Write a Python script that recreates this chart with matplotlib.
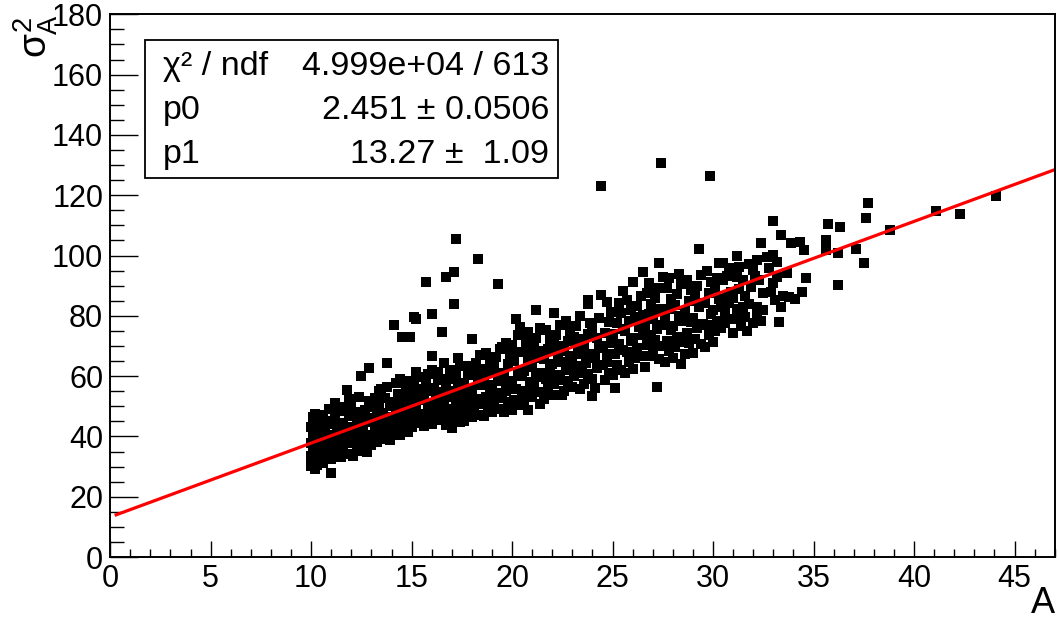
import matplotlib
matplotlib.use("Agg")
import matplotlib.pyplot as plt
from matplotlib.patches import Rectangle
from matplotlib.ticker import MultipleLocator

plt.rcParams["font.family"] = ["Liberation Sans", "DejaVu Sans"]
plt.rcParams["mathtext.fontset"] = "custom"
plt.rcParams["mathtext.rm"] = "Liberation Sans"
plt.rcParams["mathtext.it"] = "Liberation Sans"

################## Dados ##################

# pontos (A, sigma^2_A), agrupados por faixa de A
pts_10 = [(10.0, 30.2), (10.1, 31.8), (10.0, 33.5), (10.2, 34.9), (10.1, 36.4), (10.0, 37.9),
          (10.3, 38.6), (10.1, 40.2), (10.2, 41.7), (10.0, 43.1), (10.3, 44.6), (10.1, 46.3),
          (10.2, 47.5), (10.4, 32.6), (10.4, 35.7), (10.5, 39.9), (10.4, 42.5), (10.5, 45.2),
          (10.3, 30.5), (10.5, 36.8), (10.2, 29.3)]
pts_11 = [(10.6, 31.2), (10.7, 33.9), (10.8, 36.1), (10.6, 38.4), (10.9, 40.5), (10.7, 42.8),
          (10.8, 45.0), (10.6, 47.2), (11.0, 27.8), (11.0, 32.4), (11.1, 34.8), (11.2, 37.3),
          (11.0, 39.6), (11.3, 41.9), (11.1, 44.1), (11.2, 46.5), (11.4, 48.3), (11.3, 35.6),
          (11.4, 38.9), (11.5, 43.2), (11.5, 33.1), (10.9, 49.1), (11.2, 51.0)]
pts_12 = [(11.6, 36.2), (11.7, 39.0), (11.8, 41.4), (11.6, 44.5), (11.9, 46.9), (11.8, 55.3),
          (11.7, 49.8), (12.0, 34.1), (12.1, 33.5), (12.0, 37.8), (12.2, 40.3), (12.1, 43.0),
          (12.3, 45.6), (12.2, 48.1), (12.0, 51.2), (12.4, 53.0), (12.5, 60.0), (12.3, 36.5),
          (12.4, 39.1), (12.5, 42.4), (12.5, 47.0), (11.9, 52.5)]
pts_13 = [(12.6, 35.3), (12.8, 34.8), (12.7, 38.2), (12.9, 40.6), (12.6, 43.7), (12.8, 46.2),
          (12.7, 48.9), (12.9, 51.6), (12.9, 62.6), (13.0, 37.0), (13.1, 39.5), (13.2, 42.1),
          (13.0, 44.8), (13.3, 47.3), (13.1, 49.9), (13.2, 52.8), (13.4, 55.0), (13.5, 55.7),
          (13.3, 38.3), (13.4, 41.0), (13.5, 44.0), (13.4, 50.5), (13.8, 64.3)]
pts_14 = [(13.6, 39.0), (13.9, 38.8), (13.7, 42.5), (13.8, 45.3), (13.6, 47.8), (13.9, 50.2),
          (13.7, 52.9), (13.8, 56.4), (14.0, 41.0), (14.1, 43.6), (14.0, 46.4), (14.2, 48.8),
          (14.1, 51.5), (14.3, 54.2), (14.2, 57.7), (14.4, 40.4), (14.5, 44.8), (14.4, 47.1),
          (14.5, 50.0), (14.4, 59.0), (14.1, 76.9), (14.5, 72.9)]
pts_15 = [(14.6, 42.2), (14.8, 41.4), (14.7, 45.5), (14.9, 48.3), (14.6, 51.0), (14.8, 53.6),
          (14.7, 56.3), (14.9, 58.5), (14.9, 72.9), (15.0, 43.0), (15.1, 46.1), (15.2, 49.0),
          (15.0, 51.8), (15.3, 54.5), (15.1, 57.0), (15.4, 59.7), (15.1, 79.5), (15.2, 78.9),
          (15.3, 44.5), (15.5, 47.6), (15.4, 52.2), (15.5, 55.8), (15.2, 61.5)]
pts_16 = [(15.6, 43.5), (15.7, 46.8), (15.8, 49.5), (15.6, 52.4), (15.9, 55.1), (15.7, 57.9),
          (15.8, 60.6), (15.7, 91.1), (16.0, 44.2), (16.1, 47.3), (16.0, 50.6), (16.2, 53.2),
          (16.1, 56.0), (16.3, 58.8), (16.0, 62.0), (16.0, 66.6), (16.0, 80.5), (16.4, 45.6),
          (16.5, 48.9), (16.4, 51.7), (16.5, 54.8), (16.5, 74.6), (16.6, 64.3), (16.7, 92.8),
          (16.3, 61.4)]
pts_17 = [(16.7, 43.8), (16.8, 47.0), (16.6, 50.3), (16.9, 53.0), (16.7, 56.4), (16.8, 59.2),
          (16.9, 62.0), (17.0, 42.8), (17.1, 46.0), (17.0, 49.2), (17.2, 52.1), (17.1, 55.0),
          (17.3, 57.8), (17.2, 60.5), (17.4, 63.4), (17.1, 94.5), (17.2, 105.4), (17.1, 83.9),
          (17.4, 44.9), (17.5, 48.0), (17.4, 51.4), (17.5, 54.6), (17.3, 66.1)]
pts_18 = [(17.6, 45.2), (17.8, 48.7), (17.7, 51.9), (17.9, 54.8), (17.6, 57.6), (17.8, 60.3),
          (17.9, 63.5), (18.0, 72.3), (18.0, 46.4), (18.1, 49.6), (18.2, 52.5), (18.0, 55.3),
          (18.3, 58.4), (18.1, 61.0), (18.2, 64.2), (18.4, 67.0), (18.3, 98.8), (18.4, 47.2),
          (18.5, 50.8), (18.5, 56.9), (18.4, 62.2)]
pts_19 = [(18.6, 46.8), (18.8, 49.9), (18.7, 53.1), (18.9, 56.0), (18.6, 58.9), (18.8, 61.7),
          (18.9, 64.6), (18.7, 67.8), (19.0, 48.1), (19.1, 51.3), (19.2, 54.4), (19.0, 57.2),
          (19.3, 60.1), (19.1, 63.0), (19.2, 66.2), (19.4, 69.1), (19.3, 90.5), (19.5, 69.6),
          (19.4, 49.0), (19.5, 52.6), (19.5, 58.5)]
pts_20 = [(19.6, 48.0), (19.8, 51.5), (19.7, 54.9), (19.9, 57.6), (19.6, 61.2), (19.8, 64.0),
          (19.9, 67.1), (19.7, 71.0), (20.0, 48.7), (20.0, 70.3), (20.1, 52.2), (20.2, 55.6),
          (20.0, 58.4), (20.3, 61.5), (20.1, 64.9), (20.2, 78.9), (20.4, 68.0), (20.3, 73.6),
          (20.4, 50.3), (20.5, 54.1), (20.5, 59.9), (20.4, 76.2)]
pts_21 = [(20.6, 51.7), (20.8, 48.7), (20.7, 55.0), (20.9, 58.2), (20.6, 61.8), (20.8, 64.6),
          (20.9, 67.9), (20.7, 71.2), (20.8, 74.5), (21.0, 53.0), (21.1, 56.4), (21.2, 59.6),
          (21.0, 62.9), (21.3, 66.0), (21.1, 69.4), (21.2, 72.7), (21.4, 75.8), (21.2, 81.9),
          (21.4, 50.6), (21.5, 54.8), (21.5, 61.0), (21.4, 68.3)]
pts_22 = [(21.6, 52.5), (21.8, 56.0), (21.7, 59.2), (21.9, 62.5), (21.6, 65.7), (21.8, 69.0),
          (21.9, 72.1), (21.7, 75.4), (22.1, 80.9), (22.0, 53.6), (22.1, 57.3), (22.2, 60.5),
          (22.0, 63.9), (22.3, 67.2), (22.1, 70.5), (22.2, 73.8), (22.4, 77.1), (22.5, 53.7),
          (22.4, 58.8), (22.5, 64.8), (22.4, 70.0)]
pts_23 = [(22.6, 55.2), (22.8, 58.5), (22.7, 61.9), (22.9, 65.1), (22.6, 68.4), (22.8, 71.7),
          (22.9, 75.0), (22.7, 78.3), (23.0, 56.4), (23.1, 59.9), (23.2, 63.2), (23.0, 66.6),
          (23.3, 69.8), (23.1, 73.1), (23.2, 76.5), (23.4, 80.0), (23.4, 55.7), (23.5, 61.0),
          (23.5, 67.5), (23.4, 72.4)]
pts_24 = [(23.6, 57.4), (23.8, 60.8), (23.7, 64.3), (23.9, 67.4), (23.6, 70.8), (23.8, 74.1),
          (23.9, 77.6), (23.8, 84.0), (23.8, 85.2), (24.0, 53.4), (24.1, 56.0), (24.0, 59.1),
          (24.2, 62.6), (24.1, 65.9), (24.3, 69.3), (24.2, 72.6), (24.0, 75.9), (24.3, 79.4),
          (24.4, 86.8), (24.4, 123.0), (24.5, 63.8), (24.5, 70.1), (24.7, 64.6)]
pts_25 = [(24.6, 58.6), (24.8, 61.2), (24.7, 67.4), (24.9, 71.0), (24.6, 74.4), (24.8, 77.8),
          (24.9, 81.2), (24.7, 84.6), (25.1, 56.0), (25.0, 60.3), (25.2, 63.8), (25.1, 67.2),
          (25.3, 70.7), (25.0, 74.1), (25.2, 77.5), (25.4, 81.0), (25.3, 84.4), (25.5, 88.1),
          (25.4, 62.1), (25.5, 68.8), (25.5, 75.6)]
pts_26 = [(25.6, 61.0), (25.8, 64.6), (25.7, 68.0), (25.9, 71.5), (25.6, 75.0), (25.8, 78.4),
          (25.9, 81.9), (25.7, 85.3), (26.0, 91.1), (26.0, 62.3), (26.1, 65.9), (26.2, 69.4),
          (26.0, 72.8), (26.3, 76.3), (26.1, 79.7), (26.2, 83.2), (26.4, 86.6), (26.5, 94.5),
          (26.4, 66.8), (26.5, 73.5), (26.5, 80.4)]
pts_27 = [(26.6, 63.1), (26.8, 66.7), (26.7, 70.2), (26.9, 73.7), (26.6, 77.1), (26.8, 80.6),
          (26.9, 84.0), (26.7, 87.5), (26.8, 90.8), (27.2, 56.3), (27.3, 65.6), (27.0, 68.5),
          (27.1, 72.0), (27.2, 75.5), (27.0, 79.0), (27.3, 82.4), (27.1, 85.9), (27.2, 89.3),
          (27.3, 97.4), (27.4, 130.6), (27.4, 70.1), (27.5, 76.8), (27.5, 93.0)]
pts_28 = [(27.6, 64.7), (27.8, 68.2), (27.7, 71.8), (27.9, 75.3), (27.6, 78.8), (27.8, 82.3),
          (27.9, 85.7), (27.7, 89.2), (27.8, 92.5), (28.0, 66.0), (28.1, 69.6), (28.2, 73.1),
          (28.0, 76.6), (28.3, 80.1), (28.1, 83.6), (28.2, 87.1), (28.4, 90.4), (28.3, 94.0),
          (28.5, 71.4), (28.5, 78.3), (28.4, 64.0)]
pts_29 = [(28.6, 67.3), (28.8, 70.9), (28.7, 74.4), (28.9, 78.0), (28.6, 81.5), (28.8, 85.0),
          (28.7, 91.8), (28.9, 88.5), (29.0, 67.6), (29.1, 72.4), (29.2, 75.9), (29.0, 79.4),
          (29.3, 83.0), (29.1, 86.5), (29.2, 90.0), (29.3, 102.0), (29.4, 93.5), (29.5, 77.3),
          (29.5, 84.2), (29.4, 70.5)]
pts_30 = [(29.6, 69.8), (29.85, 126.3), (29.8, 73.5), (29.7, 77.0), (29.9, 80.6), (29.6, 84.1),
          (29.8, 87.7), (29.9, 91.2), (29.7, 94.8), (30.0, 71.2), (30.1, 74.8), (30.2, 78.4),
          (30.0, 82.0), (30.3, 85.5), (30.1, 89.1), (30.2, 92.6), (30.3, 97.4), (30.4, 82.9),
          (30.5, 91.8), (30.5, 97.4), (30.4, 76.0)]
pts_31 = [(30.6, 77.6), (30.7, 86.5), (30.6, 80.8), (30.8, 84.3), (30.9, 88.0), (30.7, 93.2),
          (30.8, 96.0), (31.0, 74.2), (31.1, 78.9), (31.2, 82.2), (31.0, 85.9), (31.3, 89.0),
          (31.1, 95.8), (31.2, 92.8), (31.2, 99.8), (31.3, 96.1), (31.4, 76.5), (31.5, 82.9),
          (31.5, 91.8), (31.6, 86.5), (31.6, 79.5)]
pts_32 = [(31.9, 89.5), (31.7, 75.0), (31.8, 84.0), (32.0, 95.1), (32.2, 98.4), (32.2, 82.9),
          (32.2, 80.9), (32.3, 91.8), (32.4, 104.1), (32.5, 81.9), (32.5, 87.5), (32.0, 77.5),
          (32.1, 93.3), (31.8, 97.2), (32.4, 78.4)]
pts_33 = [(32.7, 99.4), (32.8, 95.8), (33.0, 100.1), (33.2, 97.8), (33.0, 111.4), (33.0, 90.8),
          (33.1, 85.2), (33.4, 106.7), (33.3, 77.9), (33.4, 82.9), (33.5, 86.5), (32.9, 88.0),
          (33.2, 93.0)]
pts_34 = [(33.8, 86.2), (33.7, 94.1), (33.9, 104.0), (34.3, 104.4), (34.5, 101.8), (34.1, 85.5),
          (34.6, 92.6), (34.4, 88.0)]
pts_cauda = [(35.6, 105.0), (35.6, 101.8), (35.7, 110.4), (36.2, 100.8), (36.3, 109.4),
             (36.2, 90.2), (37.1, 102.1), (37.5, 97.4), (37.6, 112.4), (37.7, 117.3),
             (38.8, 108.4), (41.1, 114.7), (42.3, 113.7), (44.1, 119.7)]

grupos = [pts_10, pts_11, pts_12, pts_13, pts_14, pts_15, pts_16, pts_17, pts_18, pts_19,
          pts_20, pts_21, pts_22, pts_23, pts_24, pts_25, pts_26, pts_27, pts_28, pts_29,
          pts_30, pts_31, pts_32, pts_33, pts_34, pts_cauda]

# ajuste pol1: p1 + p0*A
p0 = 2.451
p1 = 13.27
faixa_ajuste = [0.3, 47.0]

linhas_stat = [("χ² / ndf", "4.999e+04 / 613"),
               ("p0", "2.451 ± 0.0506"),
               ("p1", "13.27 ±  1.09")]

################## Grafico ##################

A = [p[0] for g in grupos for p in g]
sig2 = [p[1] for g in grupos for p in g]

fig = plt.figure(figsize=(10.59, 6.21), dpi=100)
ax = fig.add_axes([0.104, 0.103, 0.892, 0.874])

ax.plot(A, sig2, linestyle="none", marker="s", markersize=7.0,
        color="black", markeredgewidth=0)
ax.plot(faixa_ajuste, [p1 + p0 * faixa_ajuste[0], p1 + p0 * faixa_ajuste[1]],
        color="#ff0000", linewidth=2.3)

ax.set_xlim(0, 47)
ax.set_ylim(0, 180)
ax.xaxis.set_major_locator(MultipleLocator(5))
ax.xaxis.set_minor_locator(MultipleLocator(1))
ax.yaxis.set_major_locator(MultipleLocator(20))
ax.yaxis.set_minor_locator(MultipleLocator(5))

ax.tick_params(axis="both", which="both", direction="in", top=False, right=False,
               width=1.0, labelsize=22)
ax.tick_params(axis="y", which="major", length=20, pad=5)
ax.tick_params(axis="y", which="minor", length=10)
ax.tick_params(axis="x", which="major", length=11.5, pad=5)
ax.tick_params(axis="x", which="minor", length=6)
for s in ax.spines.values():
    s.set_linewidth(1.4)

ax.text(1.0, -0.085, "A", transform=ax.transAxes, ha="right", va="center", fontsize=26)
ax.text(-0.079, 1.0, r"$\sigma^2_A$", transform=ax.transAxes, rotation=90,
        ha="center", va="top", fontsize=28)

# caixa de estatisticas
ax.add_patch(Rectangle((0.037, 0.698), 0.437, 0.254, transform=ax.transAxes,
                       facecolor="white", edgecolor="black", linewidth=1.3, zorder=5))
ys = [0.904, 0.823, 0.742]
for (nome, valor), yy in zip(linhas_stat, ys):
    ax.text(0.056, yy, nome, transform=ax.transAxes, ha="left", va="center",
            fontsize=24.5, zorder=6)
    ax.text(0.4646, yy, valor, transform=ax.transAxes, ha="right", va="center",
            fontsize=24.5, zorder=6)

fig.savefig("out.png", dpi=100)
plt.close(fig)
